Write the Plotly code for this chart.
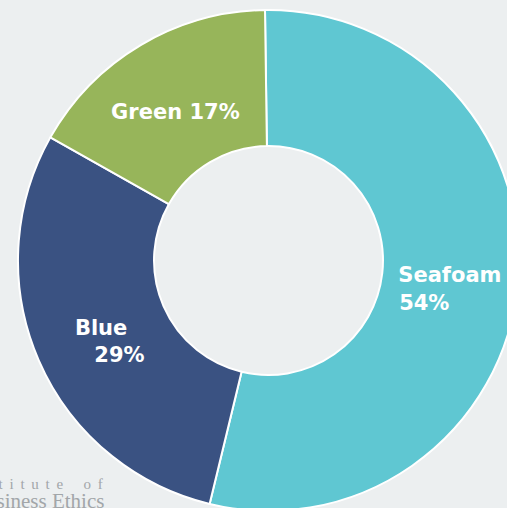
import plotly.graph_objects as go

labels = ["Seafoam", "Blue", "Green"]
values = [54.0, 29.4, 16.6]
colors = ["#5fc7d2", "#3a5282", "#97b55a"]
NB = "\u00a0"
LEAD = "<span style='font-size:9px'>" + NB + "</span><br>"
templates = [
    LEAD + "%{label}<br>%{percent:.0%}" + NB * 7,
    LEAD + "%{label}<br>" + NB * 5 + "%{percent:.0%}",
    LEAD + "%{label} %{percent:.0%}",
]
SP = NB + "\u2009"
watermark = [SP.join("Institute") + SP * 3 + SP.join("of"), "Business Ethics"]

fig = go.Figure(go.Pie(
    labels=labels, values=values, texttemplate=templates,
    textposition="inside", insidetextorientation="horizontal",
    sort=False, direction="clockwise", rotation=-0.8, hole=0.457,
    marker=dict(colors=colors, line=dict(color="#ffffff", width=2)),
    textfont=dict(family="DejaVu Sans", size=21, color="#ffffff", weight="bold"),
    showlegend=False, hoverinfo="label+percent",
))

# canvas slightly larger than the window so the donut runs off the right/bottom edges
D = 501
L, T, R, B = 18, 10, 1, 1
W, H = L + D + R, T + D + B
fig.update_layout(
    width=W, height=H,
    margin=dict(l=L, r=R, t=T, b=B),
    paper_bgcolor="#eceff0", plot_bgcolor="#eceff0",
)

def px_x(px):
    return (px - L) / float(D)

def px_y(py):
    return 1 - (py - T) / float(D)

fig.add_annotation(text=watermark[0], xref="paper", yref="paper",
                   x=px_x(105), y=px_y(484), xanchor="right", yanchor="middle",
                   showarrow=False,
                   font=dict(family="Liberation Serif", size=15, color="#a2a6a9"))
fig.add_annotation(text=watermark[1], xref="paper", yref="paper",
                   x=px_x(106), y=px_y(501), xanchor="right", yanchor="middle",
                   showarrow=False,
                   font=dict(family="Liberation Serif", size=21, color="#a2a6a9"))

fig.write_html("out.html", config={"displayModeBar": False},
               post_script="document.body.style.margin='0';document.body.style.overflow='hidden';")
